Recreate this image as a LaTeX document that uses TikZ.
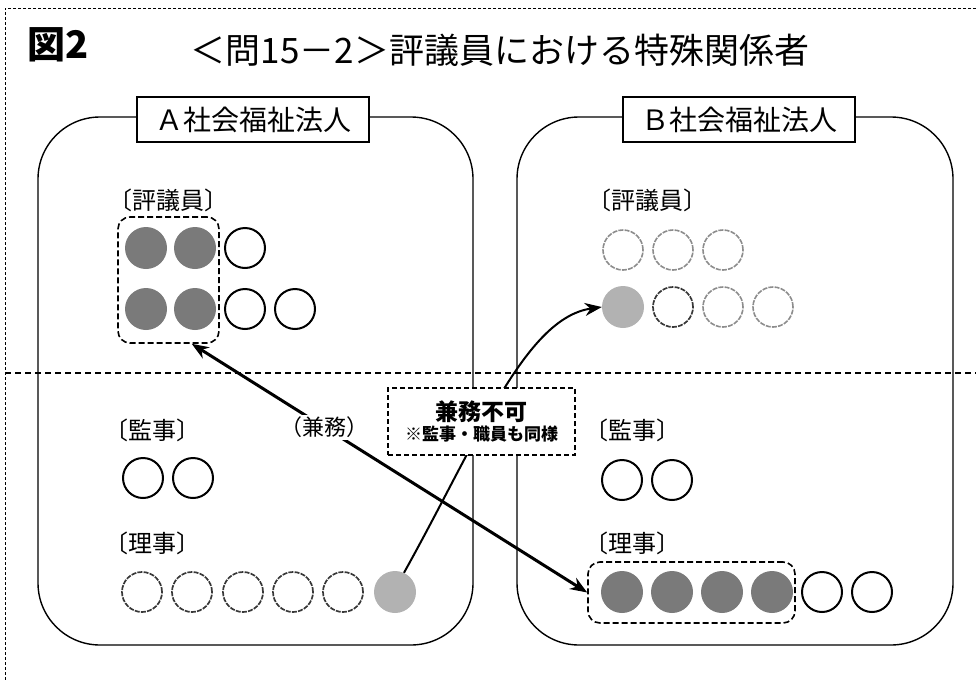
\documentclass[tikz,border=0pt]{standalone}
\usepackage{fontspec}
\setmainfont{Noto Sans CJK JP}
\usetikzlibrary{arrows.meta}
\tikzset{
  org/.style={draw=black, line width=1.4pt, rounded corners=62pt},
  orglabel/.style={draw=black, fill=white, line width=1.3pt, minimum width=232pt, minimum height=45pt, inner sep=0pt, font=\fontsize{28}{30}\selectfont},
  role/.style={font=\fontsize{24}{26}\selectfont, inner sep=0pt},
  pers/.style={circle, minimum size=40pt, inner sep=0pt, draw=black, line width=2pt},
  dark/.style={circle, minimum size=42pt, inner sep=0pt, draw=none, fill=black!52},
  light/.style={circle, minimum size=42pt, inner sep=0pt, draw=none, fill=black!30},
  faint/.style={circle, minimum size=40pt, inner sep=0pt, draw=black!78, line width=1.7pt, dash pattern=on 5pt off 1.2pt},
  pale/.style={circle, minimum size=40pt, inner sep=0pt, draw=black!45, line width=1.6pt, dash pattern=on 5pt off 1.2pt},
  grp/.style={draw=black, line width=1.6pt, dash pattern=on 6pt off 3pt, rounded corners=12pt, inner sep=0pt},
  conn/.style={line width=3pt, draw=black},
  tip/.style={-{Stealth[length=17pt,width=13pt]}},
}
\begin{document}
\begin{tikzpicture}[x=1pt,y=-1pt]
\useasboundingbox (0,0) rectangle (976,680);
% outer frame (cropped) and middle divider
\coordinate (fTL) at (5,8);
\coordinate (fTR) at (976,8);
\coordinate (fBL) at (5,680);
\draw[line width=1pt, dash pattern=on 3pt off 2pt] (fTR) -- (fTL) -- (fBL);
\coordinate (mL) at (5,373);
\coordinate (mR) at (976,373);
\draw[line width=1.2pt, dash pattern=on 6pt off 4pt] (mL) -- (mR);
% titles
\node[font=\bfseries\fontsize{38}{40}\selectfont, inner sep=0pt] (fig) at (58,45) {図2};
\node[font=\fontsize{35}{37}\selectfont, inner sep=0pt] (title) at (500,50) {＜問15－2＞評議員における特殊関係者};
% organisations
\draw[org] (38,117) rectangle (473,645);
\draw[org] (517,117) rectangle (953,645);
\node[orglabel] (labA) at (253,119.5) {Ａ社会福祉法人};
\node[orglabel] (labB) at (739,119.5) {Ｂ社会福祉法人};
% role labels
\node[role] (hA) at (168,200) {〔評議員〕};
\node[role] (kA) at (152,430) {〔監事〕};
\node[role] (rA) at (152,543) {〔理事〕};
\node[role] (hB) at (647,200) {〔評議員〕};
\node[role] (kB) at (632,430) {〔監事〕};
\node[role] (rB) at (632,543) {〔理事〕};
% A councillors
\node[dark] (ah1) at (146,248) {};
\node[dark] (ah2) at (195,248) {};
\node[pers] (ah3) at (245,248) {};
\node[dark] (ah4) at (146,309) {};
\node[dark] (ah5) at (195,309) {};
\node[pers] (ah6) at (245,309) {};
\node[pers] (ah7) at (295,309) {};
\node[grp, minimum width=101pt, minimum height=126pt] (gA) at (168.5,280) {};
% A auditors
\node[pers] (ak1) at (143,478) {};
\node[pers] (ak2) at (193,478) {};
% A directors
\node[faint] (ar1) at (142,592) {};
\node[faint] (ar2) at (192,592) {};
\node[faint] (ar3) at (243,592) {};
\node[faint] (ar4) at (293,592) {};
\node[faint] (ar5) at (343,592) {};
\node[light] (ar6) at (395,592) {};
% B councillors
\node[pale] (bh1) at (623,250) {};
\node[pale] (bh2) at (673,250) {};
\node[pale] (bh3) at (723,250) {};
\node[light] (bh4) at (623,307) {};
\node[faint] (bh5) at (673,307) {};
\node[pale] (bh6) at (723,307) {};
\node[pale] (bh7) at (773,307) {};
% B auditors
\node[pers] (bk1) at (622,480) {};
\node[pers] (bk2) at (672,480) {};
% B directors
\node[dark] (br1) at (622,592) {};
\node[dark] (br2) at (672,592) {};
\node[dark] (br3) at (722,592) {};
\node[dark] (br4) at (772,592) {};
\node[pers] (br5) at (822,592) {};
\node[pers] (br6) at (872,592) {};
\node[grp, minimum width=207pt, minimum height=61pt] (gB) at (691.5,592.5) {};
% connectors
\draw[conn, {Stealth[length=17pt,width=13pt]}-{Stealth[length=17pt,width=13pt]}] (gA.-70) -- node[pos=0.336, fill=white, inner sep=2pt, font=\fontsize{22}{24}\selectfont] (kenmu) {（兼務）} (gB.west);
\draw[line width=2pt, tip] (ar6.65) .. controls (478,440) and (525,318) .. (bh4.west);
% note box
\node[draw=black, fill=white, line width=1.3pt, dash pattern=on 5pt off 3pt, minimum width=187pt, minimum height=67pt, inner sep=0pt, align=center] (note) at (481.5,421.5)
  {{\bfseries\fontsize{23}{27}\selectfont 兼務不可}\\[2pt]{\bfseries\fontsize{17}{19}\selectfont ※監事・職員も同様}};
\end{tikzpicture}
\end{document}
